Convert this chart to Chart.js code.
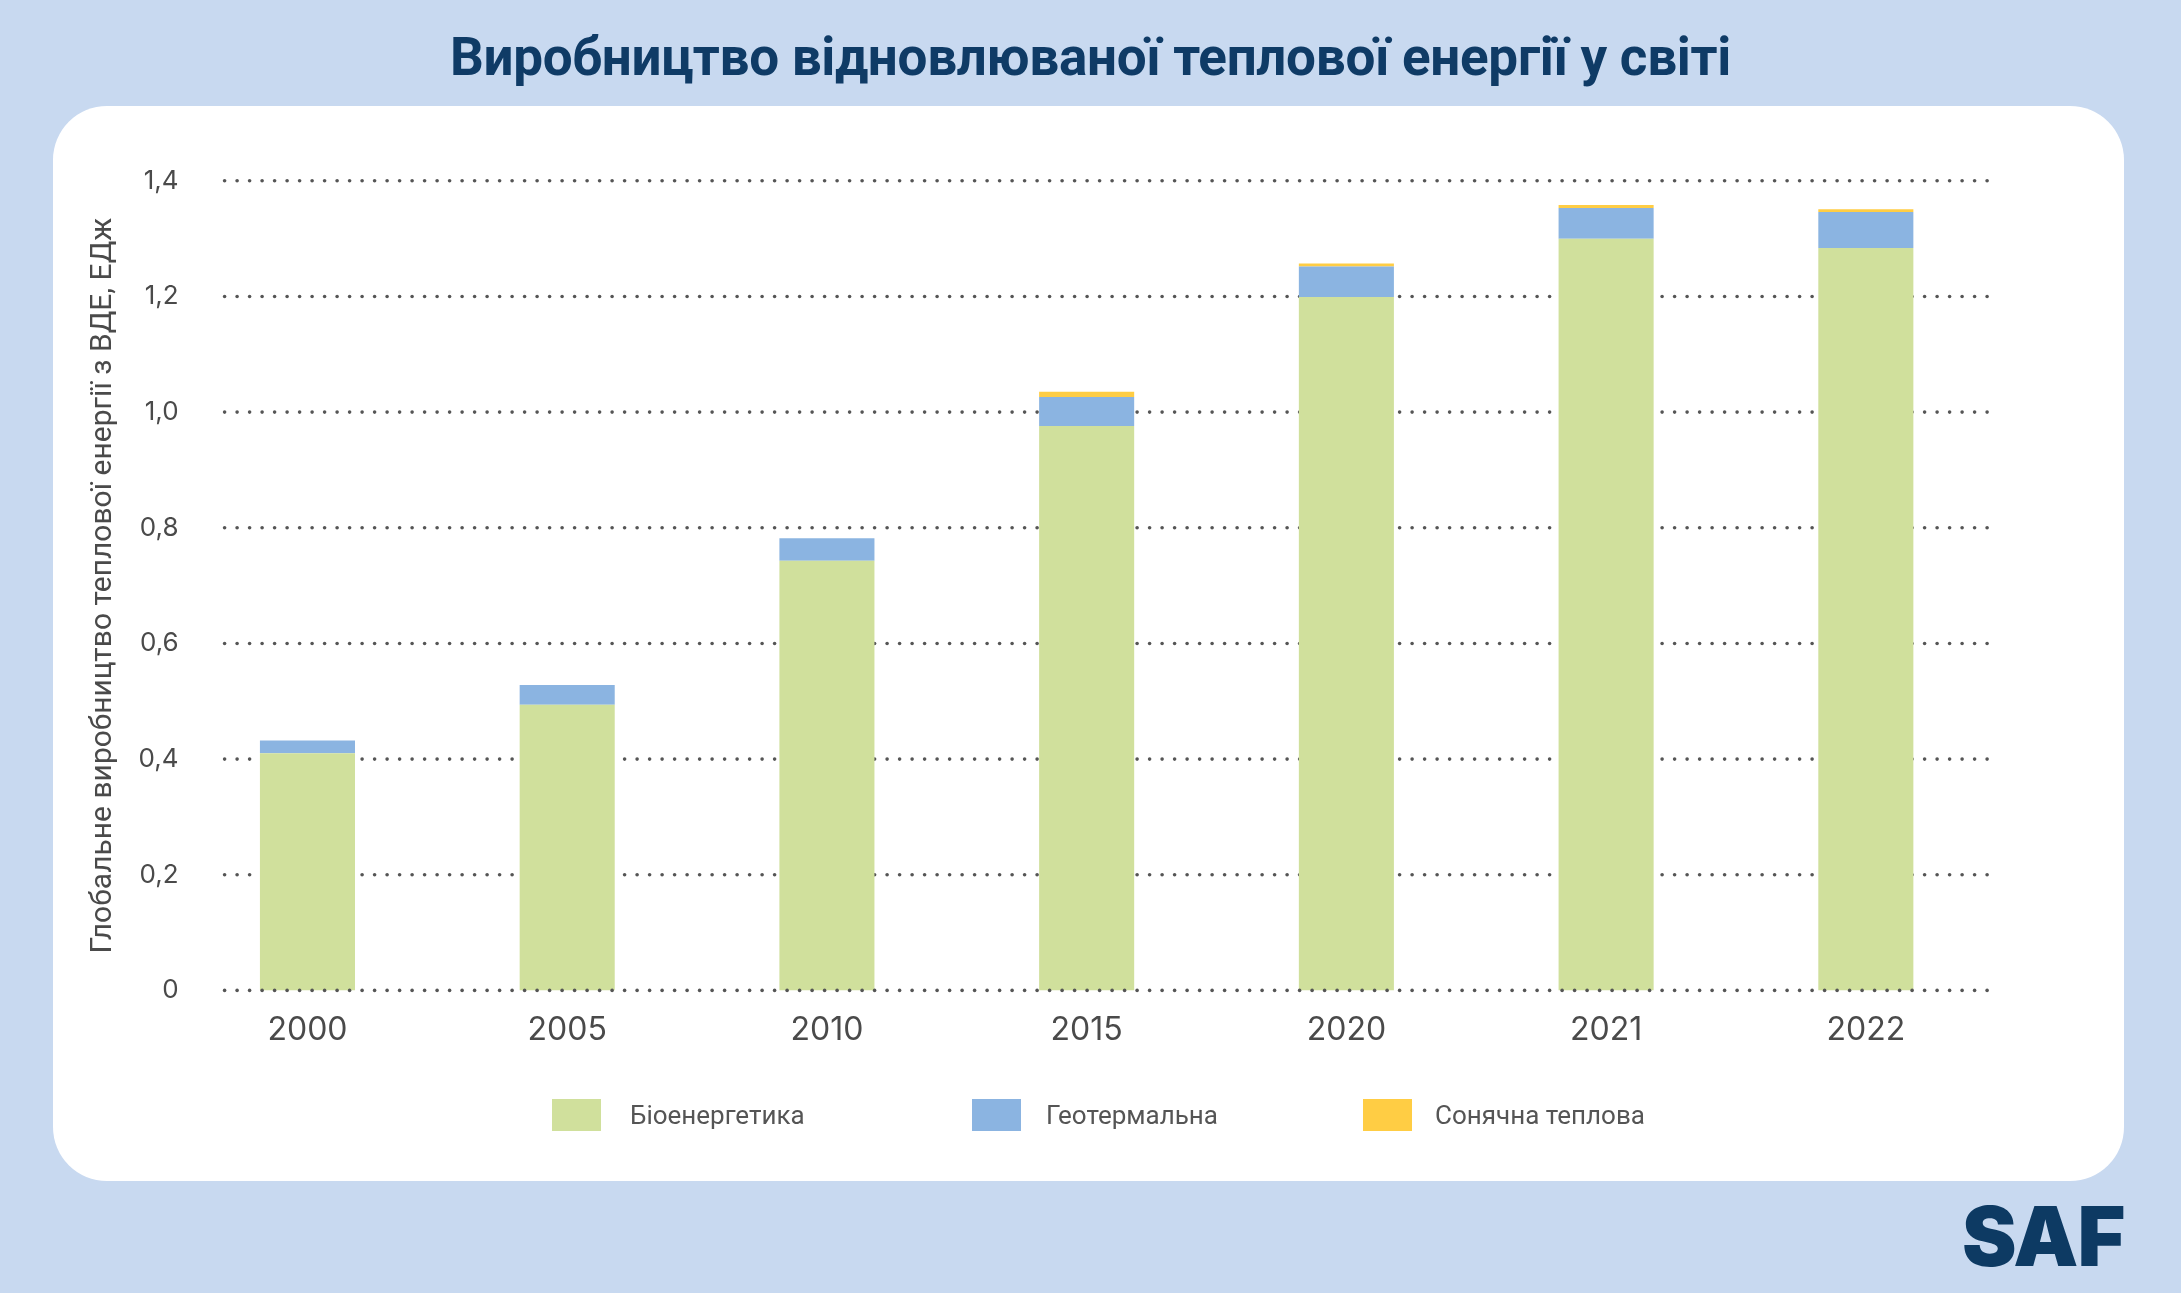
<!DOCTYPE html>
<html lang="uk">
<head>
<meta charset="utf-8">
<title>Виробництво відновлюваної теплової енергії у світі</title>
<script src="https://cdn.jsdelivr.net/npm/chart.js@4.4.1/dist/chart.umd.min.js"></script>
<style>
  html, body { margin: 0; padding: 0; }
  body {
    width: 2181px; height: 1293px; position: relative; overflow: hidden;
    background: #c8d9f0; font-family: Roboto, "Noto Sans", sans-serif;
  }
  .title {
    position: absolute; left: 0; width: 2181px; top: 26px; text-align: center;
    font-family: Roboto, sans-serif; font-weight: 700; font-size: 53px; color: #0f3b66;
    letter-spacing: -0.3px;
  }
  .card {
    position: absolute; left: 53px; top: 106px; width: 2071px; height: 1075px;
    background: #fff; border-radius: 54px;
  }
  #chart { position: absolute; left: 0; top: 0; }
  .legend-box { position: absolute; top: 1099px; width: 49px; height: 32px; }
  .legend-label {
    position: absolute; top: 1099px; height: 32px; line-height: 32px;
    font-family: Roboto, sans-serif; font-size: 26px; color: #555; white-space: nowrap;
  }
  .logo {
    position: absolute; left: 1962px; top: 1196px; font-family: Inter, sans-serif;
    font-weight: 900; font-size: 82px; color: #0d3a63; letter-spacing: -1px; line-height: 82px;
  }
</style>
</head>
<body>
<div class="title">Виробництво відновлюваної теплової енергії у світі</div>
<div class="card"></div>
<canvas id="chart" width="2181" height="1293"></canvas>
<div class="legend-box" style="left:552px;background:#d0e09c"></div>
<div class="legend-label" style="left:630px">Біоенергетика</div>
<div class="legend-box" style="left:972px;background:#8bb4e1"></div>
<div class="legend-label" style="left:1046px">Геотермальна</div>
<div class="legend-box" style="left:1363px;background:#ffcd44"></div>
<div class="legend-label" style="left:1435px">Сонячна теплова</div>
<div class="logo">SAF</div>

<script>
// Data (EJ)
const years = ['2000', '2005', '2010', '2015', '2020', '2021', '2022'];
const bioenergy = [0.410, 0.494, 0.743, 0.976, 1.199, 1.300, 1.284];
const geothermal = [0.022, 0.034, 0.039, 0.050, 0.053, 0.053, 0.062];
const solarThermal = [0, 0, 0, 0.009, 0.005, 0.005, 0.005];
const yTicks = [0, 0.2, 0.4, 0.6, 0.8, 1.0, 1.2, 1.4];

const seriesNames = ['Біоенергетика', 'Геотермальна', 'Сонячна теплова'];
const seriesColors = ['#d0e09c', '#8bb4e1', '#ffcd44'];

// Dotted grid lines: behind the bars, except the zero line which sits on top
function drawDots(chart, zeroOnly) {
    const yScale = chart.scales.y;
    const ctx = chart.ctx;
    const area = chart.chartArea;
    const x0 = area.left + 47;
    const x1 = area.right - 7;
    ctx.save();
    ctx.fillStyle = '#555555';
    yScale.ticks.forEach(t => {
        if ((t.value === 0) !== zeroOnly) return;
        const py = yScale.getPixelForValue(t.value);
        for (let x = x0; x <= x1; x += 12.5) {
            ctx.beginPath();
            ctx.arc(x, py, 1.8, 0, Math.PI * 2);
            ctx.fill();
        }
    });
    ctx.restore();
}

const dottedGrid = {
    id: 'dottedGrid',
    beforeDatasetsDraw(chart) { drawDots(chart, false); },
    afterDatasetsDraw(chart) { drawDots(chart, true); }
};

const datasets = [bioenergy, geothermal, solarThermal].map((values, i) => ({
    label: seriesNames[i],
    data: values,
    backgroundColor: seriesColors[i],
    borderWidth: 0,
    barPercentage: 0.366,
    categoryPercentage: 1
}));

new Chart(document.getElementById('chart'), {
    type: 'bar',
    data: { labels: years, datasets: datasets },
    plugins: [dottedGrid],
    options: {
        responsive: false,
        devicePixelRatio: 1,
        animation: false,
        layout: { padding: { left: 85, right: 185.3, top: 180.8, bottom: 242.6 } },
        plugins: { legend: { display: false }, tooltip: { enabled: false } },
        scales: {
            x: {
                stacked: true,
                grid: { display: false },
                border: { display: false },
                ticks: { color: '#4a4a4a', font: { family: 'Inter', size: 32 }, padding: 13 },
                afterFit(scale) { scale.height = 60; }
            },
            y: {
                stacked: true,
                min: 0,
                max: 1.4,
                afterBuildTicks(scale) { scale.ticks = yTicks.map(v => ({ value: v })); },
                grid: { display: false },
                border: { display: false },
                ticks: {
                    color: '#4a4a4a',
                    font: { family: 'Inter', size: 26 },
                    padding: -9,
                    callback: v => v === 0 ? '0' : v.toFixed(1).replace('.', ',')
                },
                title: {
                    display: true,
                    text: 'Глобальне виробництво теплової енергії з ВДЕ, ЕДж',
                    color: '#4a4a4a',
                    font: { family: 'Roboto', size: 30 },
                    padding: 0
                },
                afterFit(scale) { scale.width = 92.6; }
            }
        }
    }
});
</script>
</body>
</html>
